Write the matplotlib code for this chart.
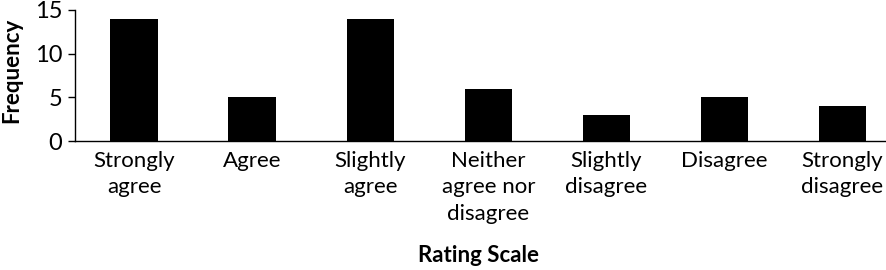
import matplotlib.pyplot as plt

categories = ["Strongly\nagree", "Agree", "Slightly\nagree", "Neither\nagree nor\ndisagree",
              "Slightly\ndisagree", "Disagree", "Strongly\ndisagree"]
frequency = [14, 5, 14, 6, 3, 5, 4]
y_ticks = [0, 5, 10, 15]

plt.rcParams['font.family'] = ['Lato', 'DejaVu Sans']

fig = plt.figure(figsize=(8.87, 2.70), dpi=100)
ax = fig.add_axes([75 / 887, 1 - 141 / 270, 810 / 887, 131 / 270])

x = list(range(len(categories)))
ax.bar(x, frequency, width=0.40, color='black')
ax.set_xlim(-0.5, 6.36)
ax.set_ylim(0, 15)
ax.set_yticks(y_ticks)
ax.set_xticks(x)
ax.set_xticklabels(categories, fontsize=16, linespacing=1.4)
ax.tick_params(axis='x', length=0, pad=7)
ax.tick_params(axis='y', labelsize=17, length=5, width=1, direction='out', pad=4)
for s in ['top', 'right']:
    ax.spines[s].set_visible(False)
for s in ['left', 'bottom']:
    ax.spines[s].set_linewidth(1)

fig.text(12 / 887, 1 - 70 / 270, 'Frequency', rotation=90, ha='center', va='center',
         fontsize=16, fontweight='bold')
fig.text(479 / 887, 1 - 255 / 270, 'Rating Scale', ha='center', va='center',
         fontsize=16, fontweight='bold')

fig.savefig('out.png', dpi=100)
